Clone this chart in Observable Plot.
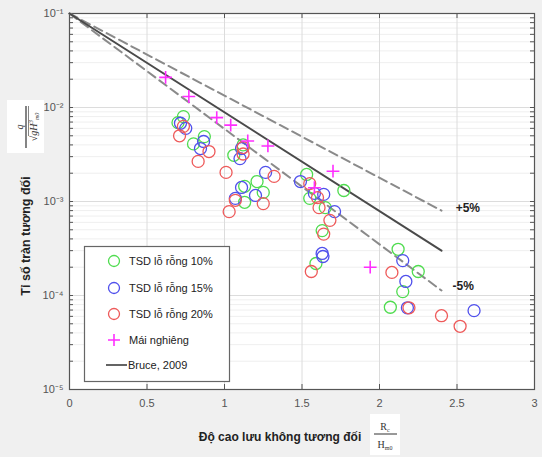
<!DOCTYPE html>
<html><head><meta charset="utf-8">
<script src="https://cdn.jsdelivr.net/npm/d3@7"></script>
<script src="https://cdn.jsdelivr.net/npm/@observablehq/plot@0.6"></script>
<style>
html,body{margin:0;padding:0;background:#fff;}
#chart{width:542px;height:457px;}
</style></head><body><div id="chart"></div>
<script>
// ---- data ----
const tsd10X = [0.735,0.70,0.87,0.80,1.12,1.06,1.21,1.13,1.25,1.13,1.53,1.77,1.55,1.65,1.63,1.59,2.12,2.25,2.15,2.07];
const tsd10Y = [8.0e-3,6.9e-3,4.9e-3,4.1e-3,4.0e-3,3.1e-3,1.63e-3,1.45e-3,1.25e-3,9.8e-4,1.94e-3,1.31e-3,1.08e-3,8.6e-4,4.9e-4,2.19e-4,3.1e-4,1.8e-4,1.10e-4,7.5e-5];
const tsd15X = [0.716,0.75,0.865,0.845,1.11,1.10,1.265,1.11,1.20,1.07,1.49,1.58,1.64,1.71,1.63,1.635,2.15,2.17,2.18,2.61];
const tsd15Y = [6.8e-3,6.0e-3,4.35e-3,3.66e-3,3.66e-3,2.86e-3,2.04e-3,1.41e-3,1.16e-3,1.08e-3,1.63e-3,1.22e-3,1.19e-3,7.8e-4,2.8e-4,2.6e-4,2.35e-4,1.41e-4,7.4e-5,6.9e-5];
const tsd20X = [0.735,0.71,0.90,0.83,1.12,1.12,1.01,1.32,1.07,1.25,1.03,1.55,1.60,1.61,1.68,1.64,1.56,2.08,2.19,2.40,2.52];
const tsd20Y = [6.3e-3,5.0e-3,3.4e-3,2.67e-3,3.75e-3,3.2e-3,2.04e-3,1.85e-3,1.03e-3,9.5e-4,7.8e-4,1.55e-3,1.10e-3,8.6e-4,6.3e-4,4.5e-4,1.8e-4,1.76e-4,7.4e-5,6.1e-5,4.7e-5];
const maiX = [0.62,0.77,0.95,1.04,1.15,1.28,1.70,1.58,1.94];
const maiY = [0.0209,0.0131,0.0078,0.0065,0.0044,0.0039,0.0021,0.0014,0.0002];
const bruceX = [0, 2.4];
const bruceY = [0.1, 3.0e-4];
const plus5Y = [0.1, 8.0e-4];
const minus5Y = [0.1, 1.13e-4];
const bandLabels = ["+5%", "-5%"];
const bandLabelX = [2.57, 2.54];
const bandLabelY = [8.4e-4, 1.25e-4];
const xTicks = [0, 0.5, 1, 1.5, 2, 2.5, 3];
const xTickLabels = ["0", "0.5", "1", "1.5", "2", "2.5", "3"];
const yTicks = [1e-5, 1e-4, 1e-3, 1e-2, 1e-1];
const yTickLabels = ["10⁻⁵", "10⁻⁴", "10⁻³", "10⁻²", "10⁻¹"];
const legendLabels = ["TSD lỗ rỗng 10%", "TSD lỗ rỗng 15%", "TSD lỗ rỗng 20%", "Mái nghiêng", "Bruce, 2009"];
const xLabel = "Độ cao lưu không tương đối";
const yLabel = "Tỉ số tràn tương đối";

// ---- build ----
const colors = {g: "#4fdc4f", b: "#5050ec", r: "#ee5a5a", m: "#ff2eff", line: "#4a4a4a", dash: "#8a8a8a"};
const pts = (xs, ys) => xs.map((x, i) => ({x, y: ys[i]}));
const minorY = [];
for (let e = -5; e < -1; e++) for (let k = 2; k <= 9; k++) minorY.push(k * Math.pow(10, e));
const allY = minorY.concat(yTicks);
const W = 542, H = 457, mL = 69, mR = 8, mT = 13, mB = 68;
const pw = W - mL - mR, ph = H - mT - mB;

const plot = Plot.plot({
  width: W, height: H,
  marginLeft: mL, marginRight: mR, marginTop: mT, marginBottom: mB,
  style: {background: "#f0f0f0", fontFamily: "'Liberation Sans', Arial, sans-serif", fontSize: "11px", color: "#555"},
  x: {domain: [0, 3]},
  y: {type: "log", domain: [1e-5, 1e-1]},
  marks: [
    Plot.frame({fill: "white", stroke: null}),
    Plot.ruleY(minorY, {stroke: "#efefef", strokeWidth: 1}),
    Plot.ruleY(yTicks, {stroke: "#dcdcdc", strokeWidth: 1}),
    Plot.ruleX(xTicks, {stroke: "#dcdcdc", strokeWidth: 1}),
    Plot.tickY(allY, {y: d => d, stroke: "#555", insetRight: pw - 4}),
    Plot.tickY(allY, {y: d => d, stroke: "#555", insetLeft: pw - 4}),
    Plot.tickX(xTicks, {x: d => d, stroke: "#555", insetTop: ph - 5}),
    Plot.tickX(xTicks, {x: d => d, stroke: "#555", insetBottom: ph - 5}),
    Plot.frame({stroke: "#555", strokeWidth: 1.2}),
    Plot.axisX({ticks: xTicks, tickSize: 0, tickPadding: 10, tickFormat: d => xTickLabels[xTicks.indexOf(d)], label: null, fill: "#555", fontSize: 11}),
    Plot.axisY({ticks: yTicks, tickSize: 0, tickPadding: 6, tickFormat: d => yTickLabels[yTicks.indexOf(d)], label: null, fill: "#555", fontSize: 11}),
    Plot.line(pts(bruceX, plus5Y), {x: "x", y: "y", stroke: colors.dash, strokeWidth: 2, strokeDasharray: "9,5"}),
    Plot.line(pts(bruceX, minus5Y), {x: "x", y: "y", stroke: colors.dash, strokeWidth: 2, strokeDasharray: "9,5"}),
    Plot.line(pts(bruceX, bruceY), {x: "x", y: "y", stroke: colors.line, strokeWidth: 2}),
    Plot.dot(pts(tsd10X, tsd10Y), {x: "x", y: "y", r: 6, stroke: colors.g, strokeWidth: 1.3}),
    Plot.dot(pts(tsd15X, tsd15Y), {x: "x", y: "y", r: 6, stroke: colors.b, strokeWidth: 1.3}),
    Plot.dot(pts(tsd20X, tsd20Y), {x: "x", y: "y", r: 6, stroke: colors.r, strokeWidth: 1.3}),
    Plot.dot(pts(maiX, maiY), {x: "x", y: "y", r: 4.2, symbol: "plus", stroke: colors.m, strokeWidth: 1.6}),
    Plot.text(bandLabels.map((t, i) => ({t, x: bandLabelX[i], y: bandLabelY[i]})), {x: "x", y: "y", text: "t", fontWeight: "bold", fontSize: 12, fill: "#222"})
  ]
});
document.getElementById("chart").appendChild(plot);

const svg = d3.select(plot);
// Legend
const lg = svg.append("g").attr("font-family", "'Liberation Sans', Arial, sans-serif").attr("font-size", 11).attr("fill", "#222").attr("text-anchor", "start");
lg.append("rect").attr("x", 84.5).attr("y", 246.5).attr("width", 145).attr("height", 135).attr("fill", "white").attr("stroke", "#666").attr("stroke-width", 1.2);
const rowY = [261, 288, 314, 340, 365];
const symCols = [colors.g, colors.b, colors.r];
legendLabels.forEach((lab, i) => {
  const y = rowY[i];
  if (i < 3) lg.append("circle").attr("cx", 114).attr("cy", y).attr("r", 5.5).attr("fill", "none").attr("stroke", symCols[i]).attr("stroke-width", 1.3);
  else if (i === 3) {
    lg.append("path").attr("d", `M108,${y}H120M114,${y-6}V${y+6}`).attr("stroke", colors.m).attr("stroke-width", 1.6);
  } else {
    lg.append("path").attr("d", `M106,${y}H127`).attr("stroke", "#222").attr("stroke-width", 1.4);
  }
  lg.append("text").attr("x", i === 4 ? 128 : 129).attr("y", y).attr("dy", "0.35em").attr("text-anchor", "start").text(lab);
});

// Y label
svg.append("text").attr("transform", "translate(26,236) rotate(-90)").attr("text-anchor", "middle").attr("dy", "0.35em")
  .attr("font-family", "'Liberation Sans', Arial, sans-serif").attr("font-weight", "bold").attr("font-size", 12.5).attr("fill", "#222").text(yLabel);
// Y fraction
svg.append("rect").attr("x", 7).attr("y", 100).attr("width", 37).attr("height", 53).attr("fill", "white");
const yf = svg.append("g").attr("transform", "translate(26,127) rotate(-90)").attr("font-family", "'Liberation Serif', 'DejaVu Serif', serif").attr("fill", "#333");
yf.append("text").attr("x", 0).attr("y", -3).attr("text-anchor", "middle").attr("font-size", 10).attr("font-style", "italic").text("q");
yf.append("line").attr("x1", -21).attr("x2", 21).attr("y1", 0).attr("y2", 0).attr("stroke", "#333").attr("stroke-width", 1.2);
const den = yf.append("text").attr("x", 0).attr("y", 11).attr("text-anchor", "middle").attr("font-size", 10).attr("font-style", "italic");
den.append("tspan").text("√gH");
den.append("tspan").attr("dy", -4).attr("font-size", 7).text("3");
den.append("tspan").attr("dy", 6).attr("font-size", 6).text("m0");
yf.append("line").attr("x1", -9).attr("x2", 21).attr("y1", 2.5).attr("y2", 2.5).attr("stroke", "#333").attr("stroke-width", 0.6);

// X label
svg.append("text").attr("x", 280).attr("y", 441).attr("text-anchor", "middle")
  .attr("font-family", "'Liberation Sans', Arial, sans-serif").attr("font-weight", "bold").attr("font-size", 12).attr("fill", "#222").text(xLabel);
svg.append("rect").attr("x", 370).attr("y", 414).attr("width", 30).attr("height", 41).attr("fill", "white");
const xf = svg.append("g").attr("font-family", "'Liberation Serif', 'DejaVu Serif', serif").attr("fill", "#333").attr("text-anchor", "middle");
const num = xf.append("text").attr("x", 385).attr("y", 430).attr("font-size", 10);
num.append("tspan").text("R");
num.append("tspan").attr("dy", 2).attr("font-size", 6).text("c");
xf.append("line").attr("x1", 374).attr("x2", 397).attr("y1", 434).attr("y2", 434).attr("stroke", "#333").attr("stroke-width", 1);
const dn = xf.append("text").attr("x", 385).attr("y", 448).attr("font-size", 10);
dn.append("tspan").text("H");
dn.append("tspan").attr("dy", 2).attr("font-size", 6).text("m0");
</script></body></html>
